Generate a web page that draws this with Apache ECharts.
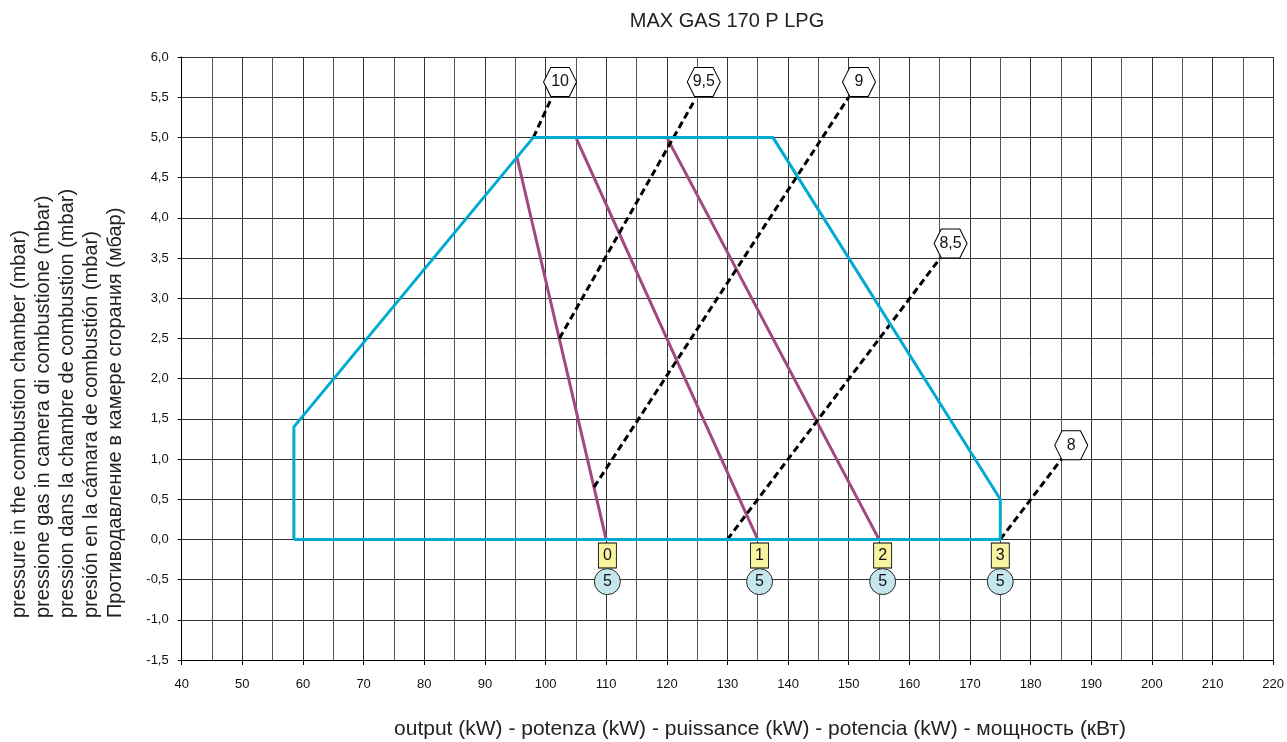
<!DOCTYPE html>
<html><head><meta charset="utf-8">
<script src="https://cdn.jsdelivr.net/npm/echarts@6/dist/echarts.min.js"></script>
<style>html,body{margin:0;padding:0;background:#fff}#c{width:1287px;height:742px}</style>
</head><body><div id="c"></div>
<script>
const titleText = 'MAX GAS 170 P LPG';
const xAxisTitle = 'output (kW) - potenza (kW) - puissance (kW) - potencia (kW) - мощность (кВт)';
const yAxisTitleLines = [
  'pressure in the combustion chamber (mbar)',
  'pressione gas in camera di combustione (mbar)',
  'pression dans la chambre de combustion (mbar)',
  'presión en la cámara de combustión (mbar)',
  'Противодавление в камере сгорания (мбар)'
];
const xTickLabels = ['40','50','60','70','80','90','100','110','120','130','140','150','160','170','180','190','200','210','220'];
const yTickLabels = ['-1,5','-1,0','-0,5','0,0','0,5','1,0','1,5','2,0','2,5','3,0','3,5','4,0','4,5','5,0','5,5','6,0'];

// working field (cyan)
const casingX = [58.5, 58.5, 98, 137.5, 175, 175, 58.5];
const casingY = [0, 1.4, 5.0, 5.0, 0.5, 0, 0];

// purple lines
const flame0X = [95.3, 110.0];  const flame0Y = [4.75, 0];
const flame1X = [105.0, 135.0]; const flame1Y = [5.0, 0];
const flame2X = [120.0, 155.0]; const flame2Y = [5.0, 0];

// dashed lines
const dash10X = [98.0, 101.0];  const dash10Y = [5.0, 5.49];
const dash95X = [102.3, 124.5]; const dash95Y = [2.5, 5.45];
const dash9X  = [108.0, 150.0]; const dash9Y  = [0.65, 5.5];
const dash85X = [130.0, 165.1]; const dash85Y = [0, 3.5];
const dash8X  = [175.0, 185.1]; const dash8Y  = [0, 1.0];

// hexagon labels
const hexLabels = ['10', '9,5', '9', '8,5', '8'];
const hexX = [102.4, 126.1, 151.7, 166.8, 186.7];
const hexY = [5.69, 5.69, 5.69, 3.68, 1.17];

// yellow boxes and circles
const boxLabels = ['0', '1', '2', '3'];
const boxX = [110.2, 135.3, 155.6, 175.0];
const boxY = [-0.2, -0.2, -0.2, -0.2];
const circleLabels = ['5', '5', '5', '5'];
const circleX = [110.2, 135.3, 155.6, 175.0];
const circleY = [-0.525, -0.525, -0.525, -0.525];

const FONT = "'Liberation Sans', Arial, sans-serif";
const xMin = 40, xMax = 220, xStep = 10;
const yMin = -1.5, yMax = 6, yStep = 0.5;

function pairs(xs, ys) { return xs.map((x, i) => [x, ys[i]]); }
function labelled(xs, ys, ls) { return xs.map((x, i) => ({ value: [x, ys[i]], name: ls[i] })); }

const lineSeries = (xs, ys, color, dashed, z) => ({
  type: 'line', data: pairs(xs, ys), symbol: 'none', z: z, silent: true,
  lineStyle: { color: color, width: 3, type: dashed ? [7, 4] : 'solid' }
});

const chart = echarts.init(document.getElementById('c'), null, { renderer: 'canvas' });

const graphics = [
  { type: 'text', x: 727, y: 21, style: { text: titleText, font: '20px ' + FONT, fill: '#222', textAlign: 'center', textVerticalAlign: 'middle' } },
  { type: 'text', x: 760, y: 729, style: { text: xAxisTitle, font: '21px ' + FONT, fill: '#222', textAlign: 'center', textVerticalAlign: 'middle' } }
];
const yLineX = [19, 43, 67, 91, 115];
yAxisTitleLines.forEach((t, i) => {
  graphics.push({ type: 'text', x: yLineX[i], y: 618, rotation: Math.PI / 2,
    style: { text: t, font: '20px ' + FONT, fill: '#222', textAlign: 'left', textVerticalAlign: 'middle' } });
});

chart.setOption({
  animation: false,
  backgroundColor: '#fff',
  grid: { left: 181.7, right: 13, top: 57, bottom: 82, containLabel: false },
  xAxis: {
    type: 'value', min: xMin, max: xMax, interval: xStep,
    axisLine: { show: true, onZero: false, lineStyle: { color: '#000', width: 1 } },
    axisTick: { show: true, length: 5, lineStyle: { color: '#000' } },
    axisLabel: { margin: 18, fontSize: 13, fontFamily: FONT, color: '#111',
      formatter: v => xTickLabels[Math.round((v - xMin) / xStep)] },
    splitLine: { show: true, lineStyle: { color: '#333', width: 1 } },
    minorTick: { show: false, splitNumber: 2 },
    minorSplitLine: { show: true, lineStyle: { color: '#555', width: 1 } }
  },
  yAxis: {
    type: 'value', min: yMin, max: yMax, interval: yStep,
    axisLine: { show: true, onZero: false, lineStyle: { color: '#000', width: 1 } },
    axisTick: { show: true, length: 4, lineStyle: { color: '#000' } },
    axisLabel: { margin: 13, fontSize: 13, fontFamily: FONT, color: '#111',
      formatter: v => yTickLabels[Math.round((v - yMin) / yStep)] },
    splitLine: { show: true, lineStyle: { color: '#333', width: 1 } }
  },
  graphic: graphics,
  series: [
    lineSeries(flame0X, flame0Y, '#a0487f', false, 3),
    lineSeries(flame1X, flame1Y, '#a0487f', false, 3),
    lineSeries(flame2X, flame2Y, '#a0487f', false, 3),
    lineSeries(dash10X, dash10Y, '#000', true, 4),
    lineSeries(dash95X, dash95Y, '#000', true, 4),
    lineSeries(dash9X, dash9Y, '#000', true, 4),
    lineSeries(dash85X, dash85Y, '#000', true, 4),
    lineSeries(dash8X, dash8Y, '#000', true, 4),
    lineSeries(casingX, casingY, '#00aad2', false, 5),
    {
      type: 'scatter', z: 6, silent: true,
      data: labelled(hexX, hexY, hexLabels),
      symbol: 'path://M0,50L22,0L78,0L100,50L78,100L22,100Z', symbolSize: [33, 29], symbolKeepAspect: false,
      itemStyle: { color: '#fff', borderColor: '#000', borderWidth: 1, opacity: 1 },
      label: { show: true, position: 'inside', formatter: '{b}', fontSize: 16, fontFamily: FONT, color: '#111' }
    },
    {
      type: 'scatter', z: 6, silent: true,
      data: labelled(boxX, boxY, boxLabels),
      symbol: 'rect', symbolSize: [18, 25],
      itemStyle: { color: '#f7f3a0', borderColor: '#000', borderWidth: 1, opacity: 1 },
      label: { show: true, position: 'inside', formatter: '{b}', fontSize: 16, fontFamily: FONT, color: '#111' }
    },
    {
      type: 'scatter', z: 6, silent: true,
      data: labelled(circleX, circleY, circleLabels),
      symbol: 'circle', symbolSize: 26,
      itemStyle: { color: '#c6e6ee', borderColor: '#222', borderWidth: 1, opacity: 1 },
      label: { show: true, position: 'inside', formatter: '{b}', fontSize: 16, fontFamily: FONT, color: '#111' }
    }
  ]
});
</script>
</body></html>
